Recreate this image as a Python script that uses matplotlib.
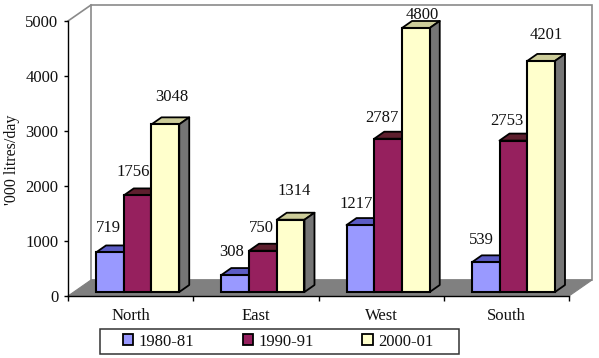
import matplotlib
matplotlib.use("Agg")
import matplotlib.pyplot as plt
from matplotlib.patches import Polygon, Rectangle
from matplotlib.transforms import Affine2D

plt.rcParams['font.family'] = ['Liberation Serif', 'DejaVu Serif']

regions = ['North', 'East', 'West', 'South']
periods = ['1980-81', '1990-91', '2000-01']
v_1980 = [719, 308, 1217, 539]
v_1990 = [1756, 750, 2787, 2753]
v_2000 = [3048, 1314, 4800, 4201]
series = [v_1980, v_1990, v_2000]

front_colors = ['#9999FF', '#96205E', '#FFFFCC']
top_colors = ['#5C5CC4', '#5E1F2E', '#CCCC99']
side_color = '#757575'
floor_color = '#808080'
wall_color = '#8A8A8A'
text_color = '#111111'

# label offsets from the top centre of each bar's front face, in pixels
label_dx = [[-2.5, -4.5, -5, -5], [-5, -3, -7, -7.5], [5, 3, 5, 4]]
label_dy = [[24, 23, 21, 22], [23, 23, 21, 20], [27, 29, 13, 26]]

W, H = 599, 358
fig = plt.figure(figsize=(W / 100, H / 100), dpi=100, facecolor='white')
ax = fig.add_axes([68 / W, (H - 296) / H, 501 / W, 275 / H])
ax.set_xlim(0, 4)
ax.set_ylim(0, 5000)
ax.patch.set_visible(False)
for s in ['top', 'right']:
    ax.spines[s].set_visible(False)
for s in ['left', 'bottom']:
    ax.spines[s].set_linewidth(1.0)
    ax.spines[s].set_zorder(1.5)

back = ax.transData + Affine2D().translate(23, 16)
front = ax.transData + Affine2D().translate(7, 4)


def poly(pts, tr, **kw):
    ax.add_patch(Polygon(pts, closed=True, transform=tr, clip_on=False, **kw))


def shifted(x, y, dx, dy):
    return front.inverted().transform(front.transform((x, y)) + (dx, dy))


# wall and floor
poly([(0, 0), (4, 0), (4, 5000), (0, 5000)], back, fc='white', ec=wall_color, lw=1.2, zorder=0.5)
p0 = ax.transData.inverted().transform(back.transform((0, 5000)))
ax.add_line(plt.Line2D([0, p0[0]], [5000, p0[1]], color=wall_color, lw=1.2, clip_on=False, zorder=0.6))
floor_back = [ax.transData.inverted().transform(back.transform(p)) for p in [(4, 0), (0, 0)]]
poly([(0, 0), (4, 0), tuple(floor_back[0]), tuple(floor_back[1])], ax.transData,
     fc=floor_color, ec=floor_color, lw=0.8, zorder=1)

# bars
bar_w = 0.2215
depth_x, depth_y = 10, 7
z = 2.0
for g in range(len(regions)):
    for k, vals in enumerate(series):
        x0 = g + 0.5 + (k - 1.5) * bar_w
        x1 = x0 + bar_w
        v = vals[g]
        ax.bar(x0, v, width=bar_w, align='edge', color=front_colors[k], edgecolor='black',
               linewidth=1.5, transform=front, clip_on=False, zorder=z + 0.2)
        tl = shifted(x0, v, depth_x, depth_y)
        tr_ = shifted(x1, v, depth_x, depth_y)
        br = shifted(x1, 0, depth_x, depth_y)
        poly([(x0, v), (x1, v), tr_, tl], front, fc=top_colors[k], ec='black', lw=1.3, joinstyle='round', zorder=z)
        poly([(x1, 0), (x1, v), tr_, br], front, fc=side_color, ec='black', lw=1.3, joinstyle='round', zorder=z)
        ax.annotate(str(v), xy=((x0 + x1) / 2, v), xycoords=front,
                    xytext=(label_dx[k][g] + 1, label_dy[k][g]), textcoords='offset pixels',
                    ha='center', va='center', fontsize=12, color=text_color,
                    annotation_clip=False, zorder=10)
        z += 1

# axes
ax.set_yticks(range(0, 5001, 1000))
ax.set_xticks(range(0, 5))
ax.set_xticklabels([])
ax.set_xticks([i + 0.5 for i in range(4)], labels=regions, minor=True)
ax.tick_params(axis='y', length=3, width=1, pad=4, labelsize=12, labelcolor=text_color)
ax.tick_params(axis='x', which='major', length=3.5, width=1)
ax.tick_params(axis='x', which='minor', length=0, pad=8.5, labelsize=12, labelcolor=text_color)
fig.text(12 / W, (H - 160) / H, "'000 litres/day", rotation=90, ha='center', va='center',
         fontsize=11.5, color=text_color)

# legend
fig.add_artist(Rectangle((99.5 / W, (H - 354) / H), 359 / W, 25 / H, transform=fig.transFigure,
                         fc='white', ec='#333333', lw=1.1))
handles = [Rectangle((0, 0), 1, 1, fc=c, ec='black', lw=1.3) for c in front_colors]
leg = fig.legend(handles, periods, ncol=3, loc='center left',
                 bbox_to_anchor=(123 / W, (H - 341.5) / H),
                 fontsize=12, frameon=False,
                 handlelength=0.62, handleheight=0.62, handletextpad=0.33,
                 borderaxespad=0, borderpad=0, columnspacing=2.9)
for t in leg.get_texts():
    t.set_color(text_color)

fig.savefig('out.png', dpi=100)
